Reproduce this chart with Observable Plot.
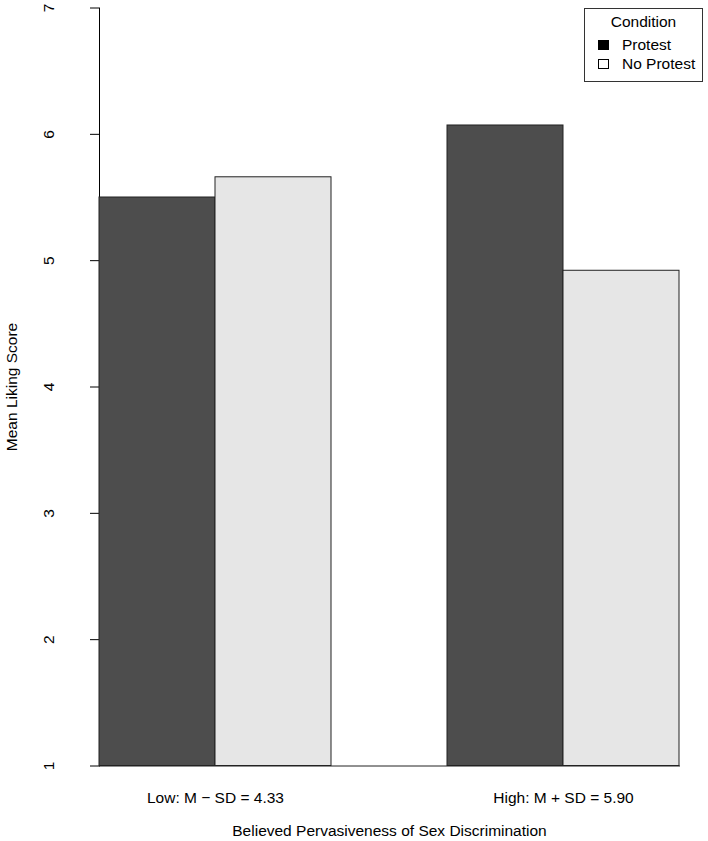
<!DOCTYPE html>
<html><head><meta charset="utf-8">
<script src="https://cdn.jsdelivr.net/npm/d3@7"></script>
<script src="https://cdn.jsdelivr.net/npm/@observablehq/plot@0.6"></script>
<style>
body{margin:0;background:#fff;}
#wrap{position:relative;width:708px;height:841px;font-family:"Liberation Sans",Arial,Helvetica,sans-serif;}
.legend{position:absolute;left:584px;top:8px;width:119px;height:74px;border:1px solid #333;background:#fff;font-size:15.5px;color:#000;box-sizing:border-box;}
.legend .title{position:absolute;left:0;right:0;top:4px;text-align:center;}
.legend .item{position:absolute;left:13px;white-space:nowrap;}
.legend .sw{display:inline-block;width:11px;height:10px;border:1px solid #000;box-sizing:border-box;margin-right:13px;vertical-align:0px;}
</style></head><body><div id="wrap"></div>
<script>
const groups = ["Low: M − SD = 4.33", "High: M + SD = 5.90"];
const conditions = ["Protest", "No Protest"];
const protestMeans = [5.50, 6.07];
const noProtestMeans = [5.66, 4.92];
const barColors = ["#4d4d4d", "#e6e6e6"];
const legendSwatches = ["#000000", "#ffffff"];
const yTicks = [1, 2, 3, 4, 5, 6, 7];
const yDomain = [1, 7];
const legendTitle = "Condition";
const xTitle = "Believed Pervasiveness of Sex Discrimination";
const yTitle = "Mean Liking Score";

const rows = groups.flatMap((g, i) => [
  {group: g, condition: conditions[0], mean: protestMeans[i]},
  {group: g, condition: conditions[1], mean: noProtestMeans[i]}
]);

const fig = Plot.plot({
  width: 708, height: 841,
  marginTop: 7.5, marginBottom: 75.5, marginLeft: 75, marginRight: 5,
  style: {fontFamily: '"Liberation Sans", Arial, Helvetica, sans-serif', fontSize: "15.5px", background: "white", color: "#000", overflow: "visible"},
  facet: {data: rows, x: "group"},
  fx: {domain: groups, paddingInner: 1/3, paddingOuter: 1/15, label: xTitle, labelAnchor: "center", labelOffset: 70, tickSize: 0, tickPadding: 26, axis: "bottom"},
  x: {domain: conditions, padding: 0, axis: null},
  y: {domain: yDomain, ticks: yTicks, tickFormat: d3.format("d"), tickSize: 9, tickPadding: 37, tickRotate: -90, label: yTitle, labelArrow: "none", labelAnchor: "center", labelOffset: 94, line: true},
  color: {domain: conditions, range: barColors},
  marks: [
    Plot.barY(rows, {x: "condition", y1: yDomain[0], y2: "mean", fill: "condition", stroke: "#222", strokeWidth: 1}),
    Plot.frame({anchor: "bottom", facet: "super", stroke: "#222"})
  ]
});
const wrap = document.getElementById("wrap");
wrap.appendChild(fig);

const lg = document.createElement("div");
lg.className = "legend";
const t = document.createElement("div");
t.className = "title"; t.textContent = legendTitle; lg.appendChild(t);
conditions.forEach((c, i) => {
  const it = document.createElement("div");
  it.className = "item"; it.style.top = (27 + i * 18.5) + "px";
  const sw = document.createElement("span");
  sw.className = "sw"; sw.style.background = legendSwatches[i];
  it.appendChild(sw);
  it.appendChild(document.createTextNode(c));
  lg.appendChild(it);
});
wrap.appendChild(lg);
</script></body></html>
